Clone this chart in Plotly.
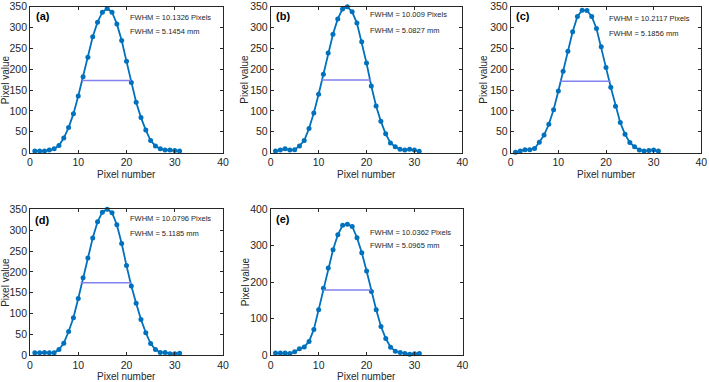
import plotly.graph_objects as go

pixel_number = list(range(1, 32))

values_a = [4, 4, 4, 6, 9, 17, 35, 60, 93, 136, 182, 229, 278, 313, 337, 346, 337, 309, 269, 219, 168, 121, 84, 54, 29, 16, 9, 6, 6, 5, 4]
values_b = [4, 6, 9, 6, 7, 16, 29, 58, 95, 140, 188, 239, 284, 321, 345, 350, 338, 311, 266, 215, 160, 112, 75, 45, 23, 14, 8, 6, 8, 6, 3]
values_c = [1, 4, 7, 7, 10, 25, 42, 68, 103, 148, 195, 243, 290, 327, 342, 341, 327, 298, 254, 204, 157, 111, 72, 44, 24, 14, 6, 4, 5, 6, 4]
values_d = [6, 6, 7, 6, 6, 14, 29, 57, 90, 136, 186, 233, 281, 320, 343, 350, 342, 313, 268, 215, 166, 125, 86, 54, 28, 14, 7, 7, 4, 4, 5]
values_e = [6, 6, 6, 5, 10, 18, 23, 38, 71, 125, 184, 239, 289, 330, 356, 359, 353, 322, 281, 231, 175, 125, 79, 46, 22, 11, 8, 5, 3, 4, 5]

half_level = [173, 174, 171, 174, 179]
fwhm_left = [10.75, 10.55, 10.4, 10.5, 10.9]
fwhm_right = [20.9, 20.95, 20.95, 21.0, 20.95]

panel_labels = ["(a)", "(b)", "(c)", "(d)", "(e)"]
fwhm_pixels = ["FWHM = 10.1326 Pixels", "FWHM = 10.009 Pixels", "FWHM = 10.2117 Pixels",
               "FWHM = 10.0796 Pixels", "FWHM = 10.0362 Pixels"]
fwhm_mm = ["FWHM = 5.1454 mm", "FWHM = 5.0827 mm", "FWHM = 5.1856 mm",
           "FWHM = 5.1185 mm", "FWHM = 5.0965 mm"]
x_title = "Pixel number"
y_title = "Pixel value"
y_max = [350, 350, 350, 350, 400]
y_step = [50, 50, 50, 50, 100]
x_ticks = [0, 10, 20, 30, 40]

series = [values_a, values_b, values_c, values_d, values_e]

W, H = 709, 382
# pixel boxes of plot areas (left, right, top, bottom)
boxes = [(30, 223, 6.8, 152.6), (270.7, 462.3, 6.8, 152.6), (510.7, 701.3, 6.8, 152.6),
         (30, 223, 209.3, 355.3), (270.7, 462.5, 209.3, 355.3)]
# axis title pixel positions
xtitle_y = [174.5, 174.5, 174.5, 376, 376]
ytitle_x = [5.5, 245, 484, 5.5, 245]
# text positions in axis-domain fractions
label_pos = [(0.02, 0.94), (0.016, 0.94), (0.016, 0.94), (0.016, 0.93), (0.016, 0.934)]
txt1_pos = [(0.51, 0.93), (0.506, 0.945), (0.506, 0.918), (0.508, 0.934), (0.506, 0.84)]
txt2_pos = [(0.51, 0.83), (0.506, 0.836), (0.506, 0.817), (0.508, 0.834), (0.506, 0.753)]

BLUE = "#0072BD"
HALF = "#8282F0"
AX = "#262626"
FONT = "Liberation Sans, Arial, sans-serif"

fig = go.Figure()
layout = dict(width=W, height=H, margin=dict(l=0, r=0, t=0, b=0, autoexpand=False),
              paper_bgcolor="white", plot_bgcolor="white", showlegend=False,
              font=dict(family=FONT, color=AX))
annotations = []

for i in range(5):
    n = i + 1
    xa = "x" if n == 1 else f"x{n}"
    ya = "y" if n == 1 else f"y{n}"
    l, r, t, b = boxes[i]
    xdom = [l / W, r / W]
    ydom = [1 - b / H, 1 - t / H]
    axis_common = dict(showline=True, linecolor=AX, linewidth=0.8, mirror="ticks",
                       ticks="inside", ticklen=3, tickcolor=AX, tickwidth=0.8, showgrid=False,
                       zeroline=False, automargin=False,
                       tickfont=dict(size=10.5, color=AX, family=FONT))
    layout["xaxis" if n == 1 else f"xaxis{n}"] = dict(
        domain=xdom, anchor=ya, range=[0, 40], tickvals=x_ticks, **axis_common)
    layout["yaxis" if n == 1 else f"yaxis{n}"] = dict(
        domain=ydom, anchor=xa, range=[0, y_max[i]],
        tickvals=list(range(0, y_max[i] + 1, y_step[i])), **axis_common)

    fig.add_trace(go.Scatter(x=pixel_number, y=series[i], mode="lines+markers",
                             line=dict(color=BLUE, width=1.8),
                             marker=dict(color=BLUE, size=5, symbol="circle"),
                             xaxis=xa, yaxis=ya, cliponaxis=False))
    fig.add_trace(go.Scatter(x=[fwhm_left[i], fwhm_right[i]], y=[half_level[i], half_level[i]],
                             mode="lines", line=dict(color=HALF, width=1.5),
                             xaxis=xa, yaxis=ya))

    dref_x = f"{xa} domain"
    dref_y = f"{ya} domain"
    annotations.append(dict(text="<b>" + panel_labels[i] + "</b>", xref=dref_x, yref=dref_y,
                            x=label_pos[i][0], y=label_pos[i][1], xanchor="left", yanchor="middle",
                            showarrow=False, font=dict(size=11, color="black", family=FONT)))
    annotations.append(dict(text=fwhm_pixels[i], xref=dref_x, yref=dref_y,
                            x=txt1_pos[i][0], y=txt1_pos[i][1], xanchor="left", yanchor="middle",
                            showarrow=False, font=dict(size=7.5, color=AX, family=FONT)))
    annotations.append(dict(text=fwhm_mm[i], xref=dref_x, yref=dref_y,
                            x=txt2_pos[i][0], y=txt2_pos[i][1], xanchor="left", yanchor="middle",
                            showarrow=False, font=dict(size=7.5, color=AX, family=FONT)))
    # axis titles
    annotations.append(dict(text=x_title, xref="paper", yref="paper",
                            x=(l + r) / 2 / W, y=1 - xtitle_y[i] / H,
                            xanchor="center", yanchor="middle", showarrow=False,
                            font=dict(size=10, color=AX, family=FONT)))
    annotations.append(dict(text=y_title, xref="paper", yref="paper",
                            x=ytitle_x[i] / W, y=1 - (t + b) / 2 / H, textangle=-90,
                            xanchor="center", yanchor="middle", showarrow=False,
                            font=dict(size=10, color=AX, family=FONT)))

layout["annotations"] = annotations
fig.update_layout(**layout)
fig.write_html("out.html", config={"displayModeBar": False},
               post_script="document.body.style.margin='0';document.body.style.overflow='hidden';")
